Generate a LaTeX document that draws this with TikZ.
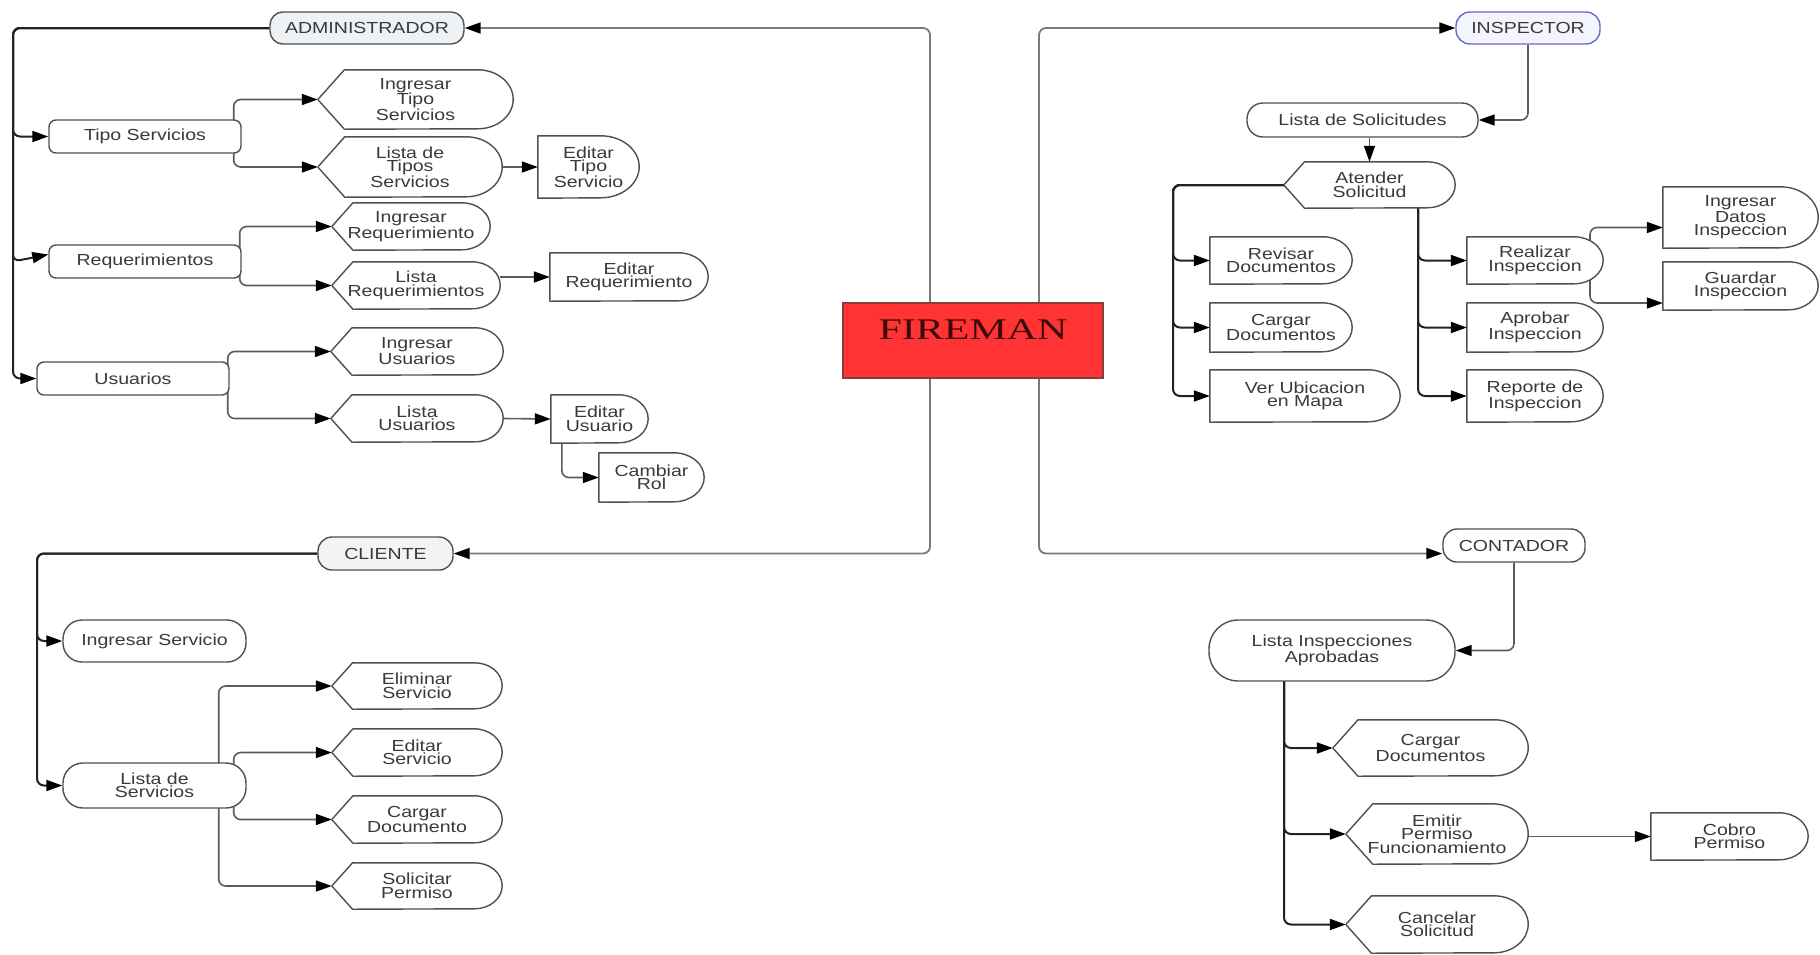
\documentclass[tikz,border=0pt]{standalone}
\usepackage{fontspec}
\setmainfont{Liberation Sans}[FakeStretch=1.22]
\newfontfamily\titlefont{Liberation Serif}[FakeStretch=1.4]
\usetikzlibrary{arrows.meta,calc}
\pgfdeclarelayer{background}
\pgfsetlayers{background,main}

\definecolor{txt}{HTML}{3A3A3A}
\definecolor{edge}{HTML}{505050}
\definecolor{wirec}{HTML}{5C5C5C}
\definecolor{trunkc}{HTML}{222222}
\definecolor{midc}{HTML}{7A7A7A}
\definecolor{adminfill}{HTML}{EEF2F4}
\definecolor{inspfill}{HTML}{F4F4FC}
\definecolor{inspline}{HTML}{6A6ACC}
\definecolor{clifill}{HTML}{F1F3F4}
\definecolor{firered}{HTML}{FF3333}
\definecolor{fireedge}{HTML}{8A3B3B}
\definecolor{firetext}{HTML}{3B0B0B}

\newcommand\boxfont{\fontsize{16}{13.5}\selectfont}

\tikzset{
  x=1pt, y=-1pt,
  lbl/.style={inner sep=0pt, align=center, text=txt, font=\boxfont},
  outline/.style={draw=edge, line width=1.4pt, fill=white, line join=round},
  pill/.style n args={3}{lbl, draw=edge, line width=1.4pt, fill=white,
    rounded corners=#3pt, minimum width=#1pt, minimum height=#2pt},
  rbox/.style 2 args={pill={#1}{#2}{7}},
  % pointed left side, rounded right side
  dispbox/.style 2 args={lbl, minimum width=#1pt, minimum height=#2pt,
    append after command={\pgfextra{
      \draw[outline] (\tikzlastnode.west)
        -- ([xshift={0.45*#2pt}]\tikzlastnode.north west)
        -- ([xshift={-0.6*#2pt}]\tikzlastnode.north east)
        arc[start angle=90, end angle=-90, x radius={0.6*#2pt}, y radius={0.5*#2pt}]
        -- ([xshift={0.45*#2pt}]\tikzlastnode.south west) -- cycle;}}},
  % straight left side, rounded right side
  delaybox/.style 2 args={lbl, minimum width=#1pt, minimum height=#2pt,
    append after command={\pgfextra{
      \draw[outline] (\tikzlastnode.north west)
        -- ([xshift={-0.62*#2pt}]\tikzlastnode.north east)
        arc[start angle=90, end angle=-90, x radius={0.62*#2pt}, y radius={0.5*#2pt}]
        -- (\tikzlastnode.south west) -- cycle;}}},
  wire/.style={draw=wirec, line width=1.6pt, rounded corners=7pt,
    -{Triangle[length=16pt,width=11pt,color=black]}},
  trunk/.style={wire, draw=trunkc, line width=2pt},
  mainwire/.style={wire, draw=midc, line width=1.8pt},
}

\begin{document}
\begin{tikzpicture}
\useasboundingbox (0,0) rectangle (1820,954);

% ---------- central node ----------
\node[draw=fireedge, fill=firered, line width=1.2pt, minimum width=260pt,
  minimum height=75pt, inner sep=0pt, text=firetext,
  font={\titlefont\fontsize{30}{30}\selectfont}, text height=20pt, text depth=22pt]
  (FM) at (973,340.5) {FIREMAN};

% ---------- ADMINISTRADOR ----------
\node[pill={194}{32}{13}, fill=adminfill] (ADMIN) at (367,28) {ADMINISTRADOR};
\node[rbox={192}{33}] (Tipo) at (145,136.5) {Tipo Servicios};
\node[rbox={192}{33}] (Req) at (145,261.5) {Requerimientos};
\node[rbox={192}{33}] (Usu) at (133,378.5) {Usuarios};
\node[dispbox={195}{59}] (IngTipo) at (415.5,99.5) {Ingresar\\Tipo\\Servicios};
\node[dispbox={184}{60}] (ListTipo) at (410,167) {Lista de\\Tipos\\Servicios};
\node[delaybox={101}{62}] (EdTipo) at (588.5,167) {Editar\\Tipo\\Servicio};
\node[dispbox={158}{47}] (IngReq) at (411,226.5) {Ingresar\\Requerimiento};
\node[dispbox={168}{47}] (ListReq) at (416,285.5) {Lista\\Requerimientos};
\node[delaybox={158}{48}] (EdReq) at (629,277) {Editar\\Requerimiento};
\node[dispbox={172}{47}] (IngUsu) at (417,351.5) {Ingresar\\Usuarios};
\node[dispbox={172}{47}] (ListUsu) at (417,418.5) {Lista\\Usuarios};
\node[delaybox={97}{48}] (EdUsu) at (599.5,419) {Editar\\Usuario};
\node[delaybox={105}{49}] (CamRol) at (651.5,477.5) {Cambiar\\Rol};

% ---------- CLIENTE ----------
\node[pill={135}{33}{14}, fill=clifill] (CLI) at (385.5,553.5) {CLIENTE};
\node[pill={183}{42}{19}] (IngServ) at (154.5,641) {Ingresar Servicio};
\node[pill={183}{45}{20}] (ListServ) at (154.5,785.5) {Lista de\\Servicios};
\node[dispbox={170}{46}] (ElimServ) at (417,686) {Eliminar\\Servicio};
\node[dispbox={170}{47}] (EdServ) at (417,752.5) {Editar\\Servicio};
\node[dispbox={170}{47}] (CargDoc) at (417,819.5) {Cargar\\Documento};
\node[dispbox={170}{46}] (SolPerm) at (417,886) {Solicitar\\Permiso};

% ---------- INSPECTOR ----------
\node[pill={144}{32}{14}, fill=inspfill, draw=inspline] (INSP) at (1528,28) {INSPECTOR};
\node[pill={231}{34}{16}] (LSol) at (1362.5,120) {Lista de Solicitudes};
\node[dispbox={171}{46}] (Atender) at (1369.5,185) {Atender\\Solicitud};
\node[delaybox={142}{47}] (Revisar) at (1281,260.5) {Revisar\\Documentos};
\node[delaybox={142}{49}] (CargDocI) at (1281,327.5) {Cargar\\Documentos};
\node[delaybox={190}{52}] (VerUb) at (1305,396) {Ver Ubicacion\\en Mapa};
\node[delaybox={136}{47}] (Realizar) at (1535,260.5) {Realizar\\Inspeccion};
\node[delaybox={136}{49}] (Aprobar) at (1535,327.5) {Aprobar\\Inspeccion};
\node[delaybox={136}{52}] (Reporte) at (1535,396) {Reporte de\\Inspeccion};
\node[delaybox={155}{61}] (IngDatos) at (1740.5,217.5) {Ingresar\\Datos\\Inspeccion};
\node[delaybox={155}{48}] (Guardar) at (1740.5,286) {Guardar\\Inspeccion};

% ---------- CONTADOR ----------
\node[pill={142}{33}{14}] (CONT) at (1514,545.5) {CONTADOR};
\node[pill={246}{61}{29}] (LInsp) at (1332,650.5) {Lista Inspecciones\\Aprobadas};
\node[dispbox={195}{56}] (CargDocC) at (1430.5,748) {Cargar\\Documentos};
\node[dispbox={182}{60}] (Emitir) at (1437,834) {Emitir\\Permiso\\Funcionamiento};
\node[dispbox={182}{57}] (Cancelar) at (1437,924.5) {Cancelar\\Solicitud};
\node[delaybox={157}{47}] (Cobro) at (1729.5,836.5) {Cobro\\Permiso};

% ---------- trunk positions ----------
\coordinate (aL) at (13,0);
\coordinate (cL) at (37,0);
\coordinate (mL) at (930,0);
\coordinate (mR) at (1039,0);
\coordinate (iL) at (1173,0);
\coordinate (iR) at (1418,0);
\coordinate (rB) at (1590,0);
\coordinate (kL) at (1284,0);

\begin{pgfonlayer}{background}
\fill[white] (0,0) rectangle (1820,954);

% central connectors
\draw[mainwire] (FM.north -| mL) |- (ADMIN.east);
\draw[mainwire] (FM.south -| mL) |- (CLI.east);
\draw[mainwire] (FM.north -| mR) |- (INSP.west);
\draw[mainwire] (FM.south -| mR) |- ([yshift=-8pt]CONT.west);

% administrador
\draw[trunk] (ADMIN.west) -| (aL |- Tipo.west) -- (Tipo.west);
\draw[trunk] (ADMIN.west) -| (aL |- Req.west) -- ([yshift=7pt]Req.west);
\draw[trunk] (ADMIN.west) -| (aL |- Usu.west) -- (Usu.west);
\draw[wire] ([xshift=-8pt]Tipo.east) |- (IngTipo.west);
\draw[wire] ([xshift=-8pt]Tipo.east) |- (ListTipo.west);
\draw[wire] (ListTipo.east) -- (EdTipo.west);
\draw[wire] ([xshift=-2pt]Req.east) |- (IngReq.west);
\draw[wire] ([xshift=-2pt]Req.east) |- (ListReq.west);
\draw[wire] (ListReq.east |- EdReq.west) -- (EdReq.west);
\draw[wire] ([xshift=-2pt]Usu.east) |- (IngUsu.west);
\draw[wire] ([xshift=-2pt]Usu.east) |- (ListUsu.west);
\draw[wire] (ListUsu.east) -- (EdUsu.west);
\draw[wire] ([xshift=11pt]EdUsu.south west) |- (CamRol.west);

% cliente
\draw[trunk] (CLI.west) -| (cL |- IngServ.west) -- (IngServ.west);
\draw[trunk] (CLI.west) -| (cL |- ListServ.west) -- (ListServ.west);
\draw[wire] ([xshift=-28pt]ListServ.east) |- (ElimServ.west);
\draw[wire] ([xshift=-13pt]ListServ.east) |- (EdServ.west);
\draw[wire] ([xshift=-13pt]ListServ.east) |- (CargDoc.west);
\draw[wire] ([xshift=-28pt]ListServ.east) |- (SolPerm.west);

% inspector
\draw[wire] (INSP.south) |- (LSol.east);
\draw[wire] (LSol.south -| Atender.north) -- (Atender.north);
\draw[trunk] (Atender.west) -| (iL |- Revisar.west) -- (Revisar.west);
\draw[trunk] (Atender.west) -| (iL |- CargDocI.west) -- (CargDocI.west);
\draw[trunk] (Atender.west) -| (iL |- VerUb.west) -- (VerUb.west);
\draw[trunk] (Atender.center -| iR) |- (Realizar.west);
\draw[trunk] (Atender.center -| iR) |- (Aprobar.west);
\draw[trunk] (Atender.center -| iR) |- (Reporte.west);
\draw[wire] (Realizar.center -| rB) |- ([yshift=-10pt]IngDatos.west);
\draw[wire] (Realizar.center -| rB) |- ([yshift=-17pt]Guardar.west);

% contador
\draw[wire] (CONT.south) |- (LInsp.east);
\draw[trunk] (LInsp.center -| kL) |- (CargDocC.west);
\draw[trunk] (LInsp.center -| kL) |- (Emitir.west);
\draw[trunk] (LInsp.center -| kL) |- (Cancelar.west);
\draw[wire] (Emitir.east |- Cobro.west) -- (Cobro.west);
\end{pgfonlayer}
\end{tikzpicture}
\end{document}
